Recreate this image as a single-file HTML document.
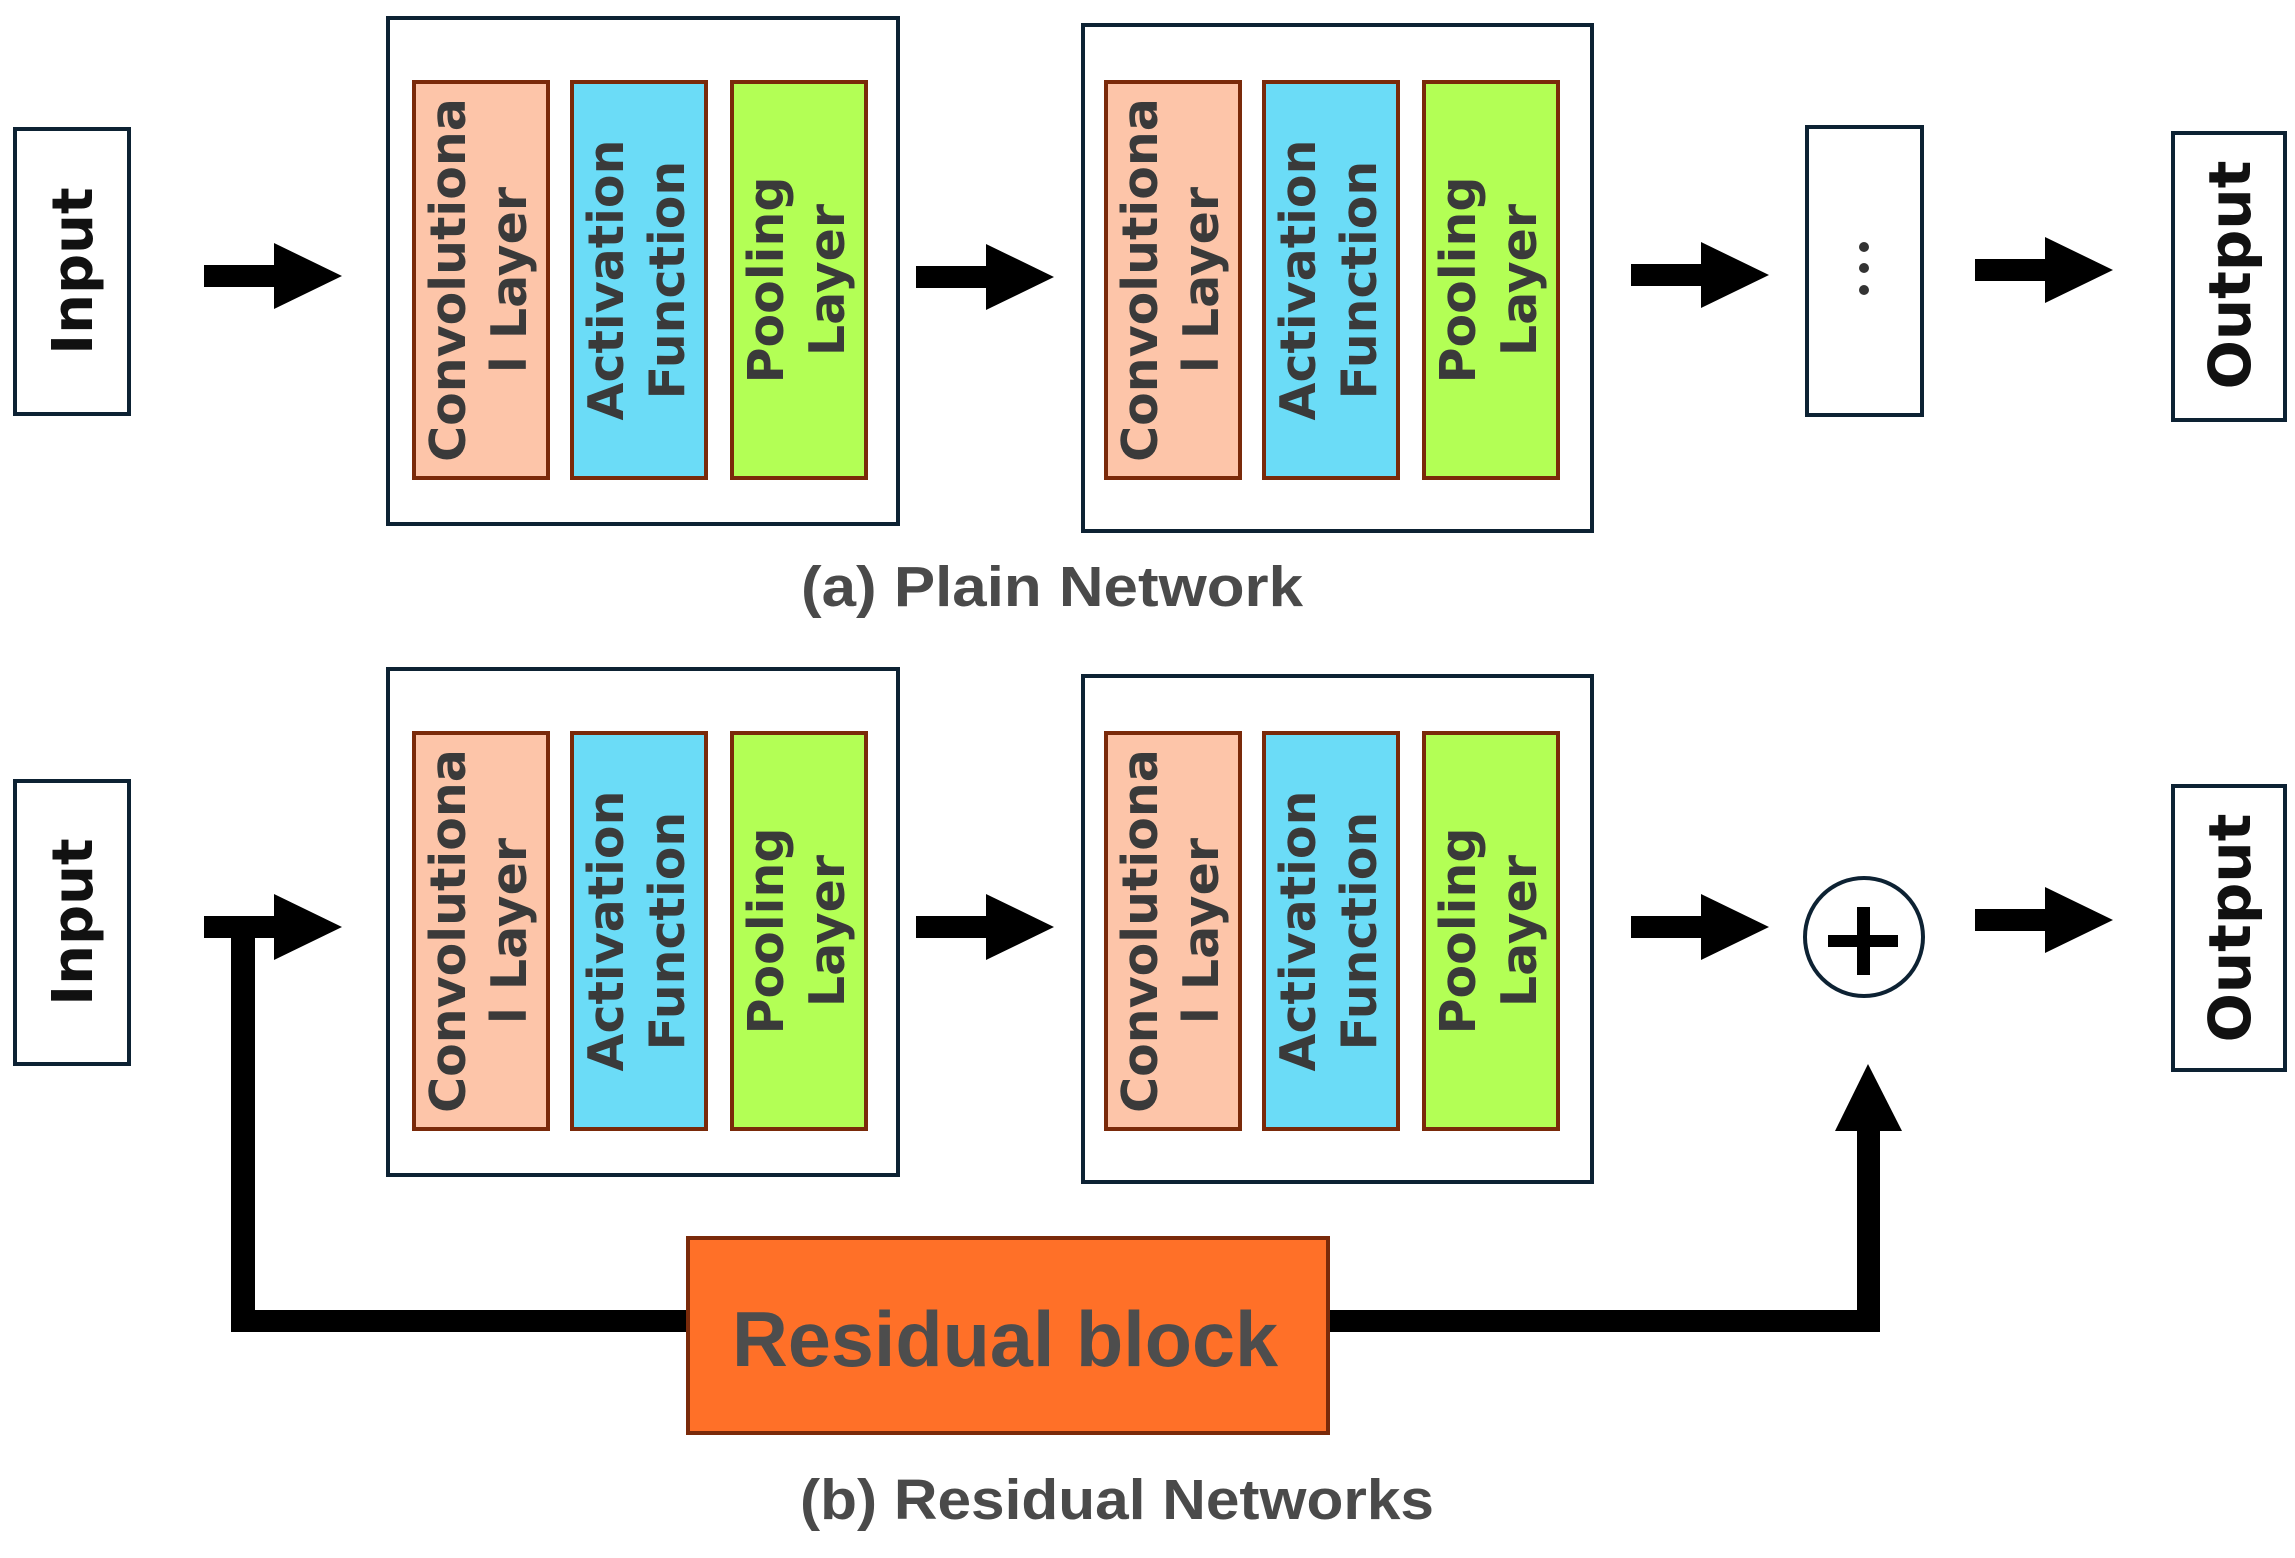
<!DOCTYPE html>
<html><head><meta charset="utf-8"><style>
html,body{margin:0;padding:0;background:#fff;}
svg{display:block;}
.t{font-family:"DejaVu Sans","Liberation Sans",sans-serif;font-weight:bold;fill:#3a3a3a;}
.c{font-family:"Liberation Sans",sans-serif;font-weight:bold;fill:#4a4a4a;}
</style></head><body>
<svg width="2295" height="1558" viewBox="0 0 2295 1558" xmlns="http://www.w3.org/2000/svg">
<defs>
<g id="arrow"><rect x="0" y="-11" width="72" height="22" fill="#000"/><polygon points="70,-33 138,0 70,33" fill="#000"/></g>
<g id="inner">
<rect x="0" y="0" width="134" height="396" fill="#fdc5a9" stroke="#7a2a0a" stroke-width="4"/>
<rect x="158" y="0" width="134" height="396" fill="#6bdcf7" stroke="#7a2a0a" stroke-width="4"/>
<rect x="318" y="0" width="134" height="396" fill="#b3ff55" stroke="#7a2a0a" stroke-width="4"/>
<text class="t" font-size="49" text-anchor="middle" transform="translate(51,198) rotate(-90)">Convolutiona</text>
<text class="t" font-size="49" text-anchor="middle" transform="translate(112,198) rotate(-90)">l Layer</text>
<text class="t" font-size="49" text-anchor="middle" transform="translate(209,198) rotate(-90)">Activation</text>
<text class="t" font-size="49" text-anchor="middle" transform="translate(270,198) rotate(-90)">Function</text>
<text class="t" font-size="49" text-anchor="middle" transform="translate(369,198) rotate(-90)">Pooling</text>
<text class="t" font-size="49" text-anchor="middle" transform="translate(430,198) rotate(-90)">Layer</text>
</g>
</defs>

<!-- Top row -->
<rect x="15" y="129" width="114" height="285" fill="#fff" stroke="#0d2233" stroke-width="4"/>
<text class="t" font-size="56" text-anchor="middle" transform="translate(92,271) rotate(-90)" style="fill:#111">Input</text>
<use href="#arrow" x="204" y="276"/>
<rect x="388" y="18" width="510" height="506" fill="#fff" stroke="#0d2233" stroke-width="4"/>
<use href="#inner" x="414" y="82"/>
<use href="#arrow" x="916" y="277"/>
<rect x="1083" y="25" width="509" height="506" fill="#fff" stroke="#0d2233" stroke-width="4"/>
<use href="#inner" x="1106" y="82"/>
<use href="#arrow" x="1631" y="275"/>
<rect x="1807" y="127" width="115" height="288" fill="#fff" stroke="#0d2233" stroke-width="4"/>
<circle cx="1864" cy="247" r="5" fill="#333"/><circle cx="1864" cy="268" r="5" fill="#333"/><circle cx="1864" cy="290" r="5" fill="#333"/>
<use href="#arrow" x="1975" y="270"/>
<rect x="2173" y="133" width="112" height="287" fill="#fff" stroke="#0d2233" stroke-width="4"/>
<text class="t" font-size="58" text-anchor="middle" transform="translate(2250,275) rotate(-90)" style="fill:#111">Output</text>
<text class="c" font-size="57" x="801" y="606" textLength="502" lengthAdjust="spacingAndGlyphs">(a) Plain Network</text>

<!-- Bottom row -->
<rect x="15" y="781" width="114" height="283" fill="#fff" stroke="#0d2233" stroke-width="4"/>
<text class="t" font-size="56" text-anchor="middle" transform="translate(92,922) rotate(-90)" style="fill:#111">Input</text>
<rect x="231" y="916" width="24" height="416" fill="#000"/>
<use href="#arrow" x="204" y="927"/>
<rect x="388" y="669" width="510" height="506" fill="#fff" stroke="#0d2233" stroke-width="4"/>
<use href="#inner" x="414" y="733"/>
<use href="#arrow" x="916" y="927"/>
<rect x="1083" y="676" width="509" height="506" fill="#fff" stroke="#0d2233" stroke-width="4"/>
<use href="#inner" x="1106" y="733"/>
<use href="#arrow" x="1631" y="927"/>
<circle cx="1864" cy="937" r="59" fill="#fff" stroke="#0d2233" stroke-width="4"/>
<rect x="1828" y="935" width="70" height="12" fill="#000"/>
<rect x="1857" y="907" width="13" height="68" fill="#000"/>
<use href="#arrow" x="1975" y="920"/>
<rect x="2173" y="786" width="112" height="284" fill="#fff" stroke="#0d2233" stroke-width="4"/>
<text class="t" font-size="58" text-anchor="middle" transform="translate(2250,928) rotate(-90)" style="fill:#111">Output</text>

<rect x="231" y="1310" width="1649" height="22" fill="#000"/>
<rect x="1857" y="1128" width="23" height="204" fill="#000"/>
<polygon points="1835,1131 1868,1064 1902,1131" fill="#000"/>
<rect x="688" y="1238" width="640" height="195" fill="#ff7028" stroke="#7a2a0a" stroke-width="4"/>
<text class="c" font-size="78" x="732" y="1366" textLength="546" lengthAdjust="spacingAndGlyphs" style="fill:#4d4d4d">Residual block</text>
<text class="c" font-size="57" x="800" y="1519" textLength="634" lengthAdjust="spacingAndGlyphs">(b) Residual Networks</text>
</svg>
</body></html>
